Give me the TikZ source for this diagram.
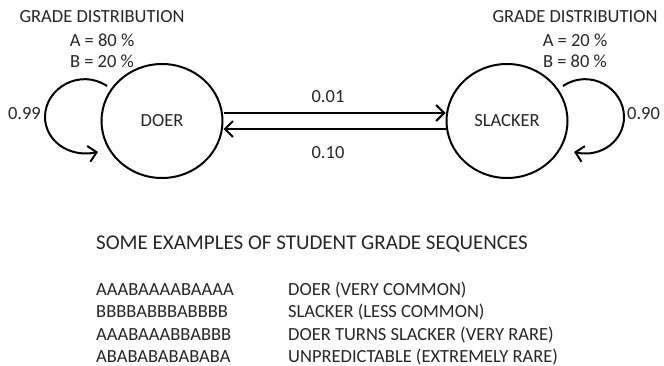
\documentclass[tikz,border=0pt]{standalone}
\usepackage{fontspec}
\setmainfont{Carlito}
\usetikzlibrary{arrows.meta,shapes.geometric}
\begin{document}
\begin{tikzpicture}[x=1pt,y=-1pt,
  txt/.style={font=\fontsize{18.5}{22}\selectfont, text=black!85, inner sep=0pt, anchor=base},
  bigtxt/.style={font=\fontsize{21}{25}\selectfont, text=black!85, inner sep=0pt, anchor=base west},
  statenode/.style={ellipse, draw, line width=2pt, minimum width=121pt, minimum height=114pt, inner sep=0pt, font=\fontsize{18.5}{22}\selectfont, text=black!85},
  arr/.style={line width=2pt, -{Straight Barb[length=8pt,width=16pt,line width=2pt]}}]
\useasboundingbox (0,0) rectangle (664,366);
% states
\node[statenode] (doer) at (162,121) {DOER};
\node[statenode] (slacker) at (507,121) {SLACKER};
% grade distributions
\node[txt] (gdl) at (102,23) {GRADE DISTRIBUTION};
\node[txt] (al) at (102,47) {A = 80 \%};
\node[txt] (bl) at (102,68) {B = 20 \%};
\node[txt] (gdr) at (575,23) {GRADE DISTRIBUTION};
\node[txt] (ar) at (575,47) {A = 20 \%};
\node[txt] (br) at (575,68) {B = 80 \%};
% transitions between states
\draw[arr] ([yshift=8pt]doer.east) -- ([yshift=8pt]slacker.west);
\draw[arr] ([yshift=-8pt]slacker.west) -- ([yshift=-8pt]doer.east);
\node[txt] (p01) at (328,103) {0.01};
\node[txt] (p10) at (328,159) {0.10};
% self loops
\coordinate (dls) at (107,86);
\coordinate (dle) at (98,152);
\draw[arr] (dls) .. controls (80,68) and (45,88) .. (45,117) .. controls (45,140) and (68,158) .. (dle);
\node[txt, anchor=base east] (p99) at (41,120) {0.99};
\coordinate (sls) at (563,86);
\coordinate (sle) at (574,152);
\draw[arr] (sls) .. controls (590,68) and (624,88) .. (624,117) .. controls (624,140) and (602,158) .. (sle);
\node[txt, anchor=base west] (p90) at (627,120) {0.90};
% examples
\node[bigtxt] (title) at (96,250) {SOME EXAMPLES OF STUDENT GRADE SEQUENCES};
\node[txt, anchor=base west] (s1) at (96,295) {AAABAAAABAAAA};
\node[txt, anchor=base west] (s2) at (96,317.5) {BBBBABBBABBBB};
\node[txt, anchor=base west] (s3) at (96,340) {AAABAAABBABBB};
\node[txt, anchor=base west] (s4) at (96,362) {ABABABABABABA};
\node[txt, anchor=base west] (d1) at (288,295) {DOER (VERY COMMON)};
\node[txt, anchor=base west] (d2) at (288,317.5) {SLACKER (LESS COMMON)};
\node[txt, anchor=base west] (d3) at (288,340) {DOER TURNS SLACKER (VERY RARE)};
\node[txt, anchor=base west] (d4) at (288,362) {UNPREDICTABLE (EXTREMELY RARE)};
\end{tikzpicture}
\end{document}
